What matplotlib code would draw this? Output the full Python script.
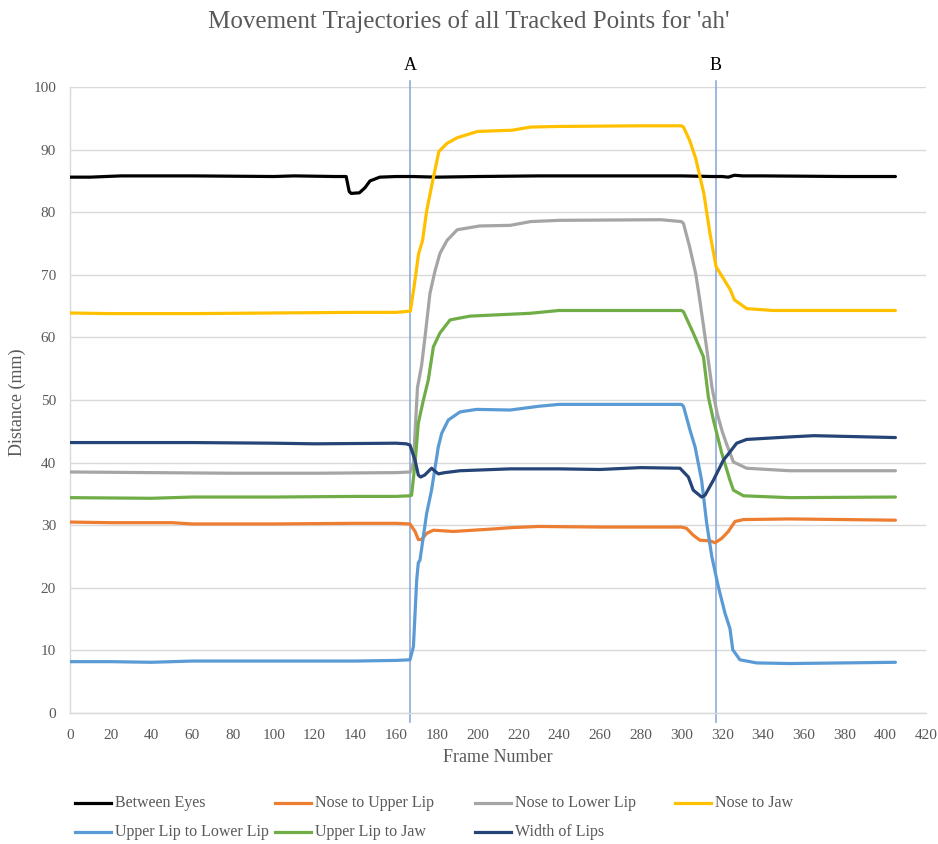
import matplotlib
matplotlib.use("Agg")
import matplotlib.pyplot as plt
from matplotlib.lines import Line2D

plt.rcParams['font.family'] = ['Liberation Serif', 'DejaVu Serif']

# ---------------- data ----------------
series_names = ["Between Eyes", "Nose to Upper Lip", "Nose to Lower Lip", "Nose to Jaw",
                "Upper Lip to Lower Lip", "Upper Lip to Jaw", "Width of Lips"]
series_colors = ["#000000", "#ED7D31", "#A5A5A5", "#FFC000",
                 "#5B9BD5", "#70AD47", "#264478"]

be_frames = [0, 10, 25, 60, 100, 110, 130, 135.5, 137, 138, 142, 144.7, 147.2, 152, 160, 168,
             180, 200, 230, 260, 300, 315, 320, 323, 326, 330, 340, 380, 405]
be_vals = [85.6, 85.6, 85.8, 85.8, 85.7, 85.8, 85.7, 85.7, 83.3, 83.0, 83.1, 83.9, 85.0, 85.6,
           85.7, 85.7, 85.6, 85.7, 85.8, 85.8, 85.8, 85.7, 85.7, 85.6, 85.9, 85.8, 85.8, 85.7, 85.7]

nu_frames = [0, 20, 50, 60, 100, 140, 160, 166.8, 169.3, 170.9, 172.5, 175, 178.3, 188, 207.7,
             216, 230, 260, 300, 302.5, 305.8, 309.1, 314, 316.5, 319.8, 323, 326.3, 330.4, 353,
             380, 405]
nu_vals = [30.5, 30.4, 30.4, 30.2, 30.2, 30.3, 30.3, 30.2, 29.0, 27.7, 27.7, 28.7, 29.2, 29.0,
           29.4, 29.6, 29.8, 29.7, 29.7, 29.5, 28.4, 27.6, 27.5, 27.2, 27.9, 29.0, 30.6, 30.9,
           31.0, 30.9, 30.8]

nl_frames = [0, 40, 80, 120, 160, 167, 168.5, 169.5, 170.5, 172.5, 174.2, 176.6, 179, 181.5, 185,
             190, 201, 216, 226, 240, 290, 300, 301, 304, 307, 309, 312.5, 315, 317.5, 320, 322,
             325.5, 332, 353, 405]
nl_vals = [38.5, 38.4, 38.3, 38.3, 38.4, 38.5, 40.0, 46.0, 52.0, 55.5, 60.1, 67.0, 70.5, 73.4,
           75.5, 77.2, 77.8, 77.9, 78.5, 78.7, 78.8, 78.5, 78.2, 74.5, 70.2, 66.0, 58.0, 52.0,
           47.9, 45.0, 43.1, 40.1, 39.1, 38.7, 38.7]

nj_frames = [0, 20, 60, 100, 140, 160, 167, 169, 171, 173, 175, 178, 181, 185, 190, 200, 217, 226,
             240, 280, 300, 301, 304, 307, 311, 314, 317, 321, 324, 326, 332, 345, 360, 405]
nj_vals = [63.9, 63.8, 63.8, 63.9, 64.0, 64.0, 64.2, 68.5, 73.3, 75.5, 80.2, 85.1, 89.7, 91.0,
           91.9, 92.9, 93.1, 93.6, 93.7, 93.8, 93.8, 93.6, 91.5, 88.6, 83.0, 76.6, 71.3, 69.2,
           67.6, 66.0, 64.6, 64.3, 64.3, 64.3]

ull_frames = [0, 20, 40, 60, 100, 140, 160, 166.8, 168.5, 170.1, 170.9, 171.7, 175, 177.4, 180.7,
              182.4, 185.6, 191.4, 199.5, 216, 230, 240, 300, 301, 304.2, 306.7, 309.9, 312.4,
              314.9, 318.1, 321.4, 323.8, 325.2, 328.7, 336.9, 353, 405]
ull_vals = [8.2, 8.2, 8.1, 8.3, 8.3, 8.3, 8.4, 8.5, 10.6, 21.2, 24.0, 24.4, 31.9, 35.6, 42.5,
            44.7, 46.8, 48.1, 48.5, 48.4, 49.0, 49.3, 49.3, 49.0, 45.2, 42.5, 37.2, 30.3, 25.0,
            20.2, 15.9, 13.5, 10.1, 8.5, 8.0, 7.9, 8.1]

ulj_frames = [0, 40, 60, 100, 140, 160, 166.8, 167.6, 169.3, 170.9, 173.4, 175.8, 178.3, 181.5,
              186.5, 196.3, 225.7, 240, 300, 301, 305.8, 310.8, 313.2, 315.7, 319.8, 323.8, 325.5,
              330.4, 353, 405]
ulj_vals = [34.4, 34.3, 34.5, 34.5, 34.6, 34.6, 34.7, 34.8, 39.9, 46.3, 50.0, 53.2, 58.5, 60.7,
            62.8, 63.4, 63.85, 64.3, 64.3, 64.1, 60.7, 56.9, 50.5, 46.8, 41.5, 37.2, 35.6, 34.7,
            34.4, 34.5]

wl_frames = [0, 30, 60, 100, 120, 160, 165, 166.8, 169.3, 170.9, 172, 174, 177.4, 180.7, 184,
             191.4, 215.9, 240, 260, 280, 299.3, 303.4, 305.8, 309.9, 311.6, 315.7, 320.6, 323.8,
             327.1, 332, 353, 365, 405]
wl_vals = [43.2, 43.2, 43.2, 43.1, 43.0, 43.1, 43.0, 42.8, 40.4, 38.0, 37.7, 38.0, 39.1, 38.2,
           38.4, 38.7, 39.0, 39.0, 38.9, 39.2, 39.1, 37.7, 35.6, 34.5, 34.8, 37.2, 40.4, 41.7,
           43.1, 43.7, 44.1, 44.3, 44.0]

all_frames = [be_frames, nu_frames, nl_frames, nj_frames, ull_frames, ulj_frames, wl_frames]
all_vals = [be_vals, nu_vals, nl_vals, nj_vals, ull_vals, ulj_vals, wl_vals]

marker_labels = ["A", "B"]
marker_frames = [166.8, 316.8]

x_ticks = list(range(0, 421, 20))
y_ticks = list(range(0, 101, 10))

# ---------------- figure ----------------
W, H = 938, 844
fig = plt.figure(figsize=(W / 100, H / 100), dpi=100)
ax = fig.add_axes([70 / W, 1 - 713 / H, 856 / W, 626 / H])

text_color = "#595959"
grid_color = "#D9D9D9"

for fr, vals, color in zip(all_frames, all_vals, series_colors):
    ax.plot(fr, vals, color=color, lw=2.3, solid_joinstyle='round', solid_capstyle='round', zorder=3)

for lab, fr in zip(marker_labels, marker_frames):
    ax.plot([fr, fr], [-1.4, 100.9], color="#8FAADC", lw=1.2, clip_on=False, zorder=2)
    ax.text(fr, 103.5, lab, ha='center', va='center', fontsize=13, color='black')

ax.set_xlim(0, 420)
ax.set_ylim(0, 100)
ax.set_xticks(x_ticks)
ax.set_yticks(y_ticks)
ax.tick_params(axis='both', length=0, labelsize=11, labelcolor=text_color)
ax.tick_params(axis='x', pad=11.5)
ax.tick_params(axis='y', pad=10)
ax.yaxis.grid(True, color=grid_color, lw=1.0)
ax.set_axisbelow(True)
for s in ['top', 'right']:
    ax.spines[s].set_visible(False)
for s in ['left', 'bottom']:
    ax.spines[s].set_color(grid_color)
    ax.spines[s].set_linewidth(1.0)

fig.text(0.5, 1 - 22 / H, "Movement Trajectories of all Tracked Points for 'ah'",
         ha='center', va='center', fontsize=18, color=text_color)
fig.text(498 / W, 1 - 757 / H, "Frame Number", ha='center', va='center', fontsize=13, color=text_color)
fig.text(17 / W, 1 - 402 / H, "Distance (mm)", ha='center', va='center', rotation=90,
         fontsize=13, color=text_color)

# legend (Excel-style fixed columns)
col_x = [75, 275, 475, 675]
row_y = [803, 831.5]
for i, (name, color) in enumerate(zip(series_names, series_colors)):
    r, c = divmod(i, 4)
    x0 = col_x[c]
    y0 = 1 - row_y[r] / H
    fig.add_artist(Line2D([x0 / W, (x0 + 36) / W], [y0, y0], color=color, lw=2.3,
                          transform=fig.transFigure))
    fig.text((x0 + 40) / W, y0, name, ha='left', va='center', fontsize=11.5, color=text_color)

fig.savefig("out.png", dpi=100)
